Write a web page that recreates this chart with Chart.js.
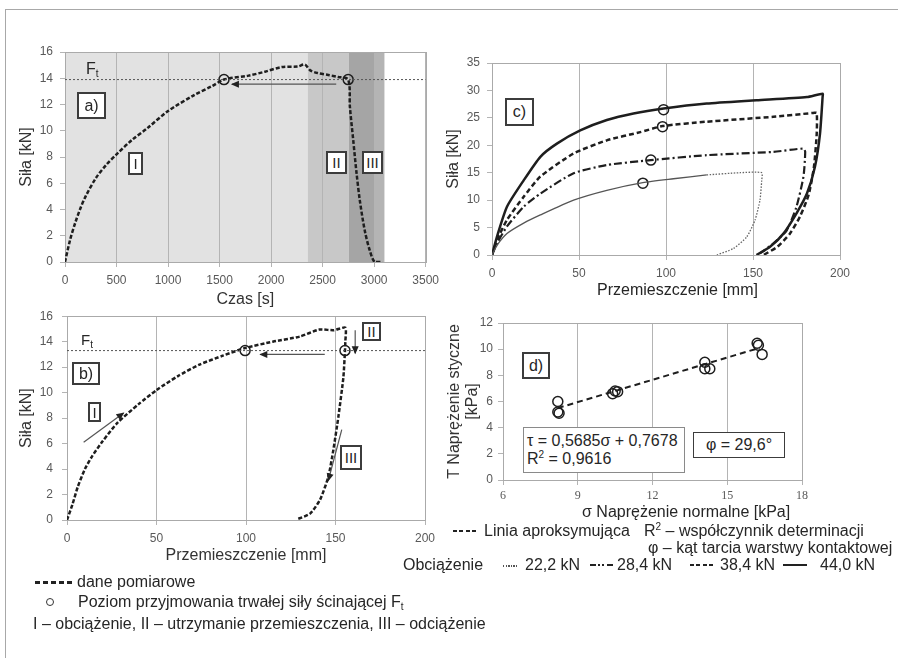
<!DOCTYPE html>
<html>
<head>
<meta charset="utf-8">
<script src="https://cdn.jsdelivr.net/npm/chart.js@4.4.1/dist/chart.umd.min.js"></script>
<style>
body { margin: 0; background: #fff; font-family: "Liberation Sans", Arial, sans-serif; color: #262626; }
#page { position: relative; width: 898px; height: 658px; overflow: hidden; }
#frame { position: absolute; left: 5px; top: 9px; right: -2px; bottom: -2px; border-top: 1px solid #a8a8a8; border-left: 1px solid #a8a8a8; }
canvas { position: absolute; }
.box { position: absolute; box-sizing: border-box; border: 2px solid #3c3c3c; background: #fff; font-size: 15px; display: flex; align-items: center; justify-content: center; }
.txt { position: absolute; white-space: nowrap; font-size: 16px; line-height: 18px; }
.txt sub { font-size: 10px; vertical-align: -3px; line-height: 0; }
.txt sup { font-size: 10px; vertical-align: 6px; line-height: 0; }
.smp { position: absolute; }
</style>
</head>
<body>
<div id="page">
<div id="frame"></div>
<canvas id="chartA" style="left:0px;top:20px" width="445" height="295"></canvas>
<canvas id="chartB" style="left:0px;top:300px" width="445" height="270"></canvas>
<canvas id="chartC" style="left:440px;top:20px" width="458" height="290"></canvas>
<canvas id="chartD" style="left:440px;top:300px" width="458" height="200"></canvas>

<!-- a) -->
<div class="txt" style="left:86px;top:60px">F<sub>t</sub></div>
<div class="box" style="left:77px;top:92px;width:29px;height:27px;font-size:16px">a)</div>
<div class="box" style="left:128px;top:152px;width:15px;height:23px">I</div>
<div class="box" style="left:326px;top:151px;width:21px;height:23px">II</div>
<div class="box" style="left:362px;top:151px;width:21px;height:23px">III</div>

<!-- b) -->
<div class="txt" style="left:81px;top:331px;font-size:15px">F<sub>t</sub></div>
<div class="box" style="left:72px;top:362px;width:28px;height:23px;font-size:16px">b)</div>
<div class="box" style="left:88px;top:402px;width:13px;height:20px">I</div>
<div class="box" style="left:362px;top:322px;width:19px;height:19px">II</div>
<div class="box" style="left:340px;top:445px;width:22px;height:25px">III</div>

<!-- c) -->
<div class="box" style="left:505px;top:98px;width:29px;height:28px;font-size:16px">c)</div>
<div class="txt" style="left:597px;top:281px">Przemieszczenie [mm]</div>

<!-- d) -->
<div class="box" style="left:522px;top:352px;width:28px;height:27px;font-size:16px">d)</div>
<div class="box" style="left:523px;top:427px;width:162px;height:46px;border:1px solid #8a8a8a;display:block;padding:4px 0 0 3px;font-size:16px;line-height:18px">τ = 0,5685σ + 0,7678<br>R<sup style="font-size:10px;vertical-align:6px;line-height:0">2</sup> = 0,9616</div>
<div class="box" style="left:693px;top:432px;width:92px;height:26px;font-size:16px;border-width:1.5px">φ = 29,6°</div>
<div class="txt" style="left:582px;top:503px">σ Naprężenie normalne [kPa]</div>

<!-- legenda -->
<div class="smp" style="left:35px;top:581px;width:37px;height:2.5px;background:repeating-linear-gradient(to right,#222 0 5px,transparent 5px 8px)"></div>
<div class="txt" style="left:77px;top:573px">dane pomiarowe</div>
<div class="smp" style="left:46px;top:598px;width:6px;height:6px;border:1.5px solid #333;border-radius:50%"></div>
<div class="txt" style="left:78px;top:593px">Poziom przyjmowania trwałej siły ścinającej F<sub>t</sub></div>
<div class="txt" style="left:33px;top:615px">I – obciążenie, II – utrzymanie przemieszczenia, III – odciążenie</div>

<div class="smp" style="left:453px;top:530px;width:24px;height:2px;background:repeating-linear-gradient(to right,#222 0 4px,transparent 4px 6.5px)"></div>
<div class="txt" style="left:484px;top:522px">Linia aproksymująca</div>
<div class="txt" style="left:644px;top:522px">R<sup>2</sup> – współczynnik determinacji</div>
<div class="txt" style="left:648px;top:539px">φ – kąt tarcia warstwy kontaktowej</div>
<div class="txt" style="left:403px;top:556px">Obciążenie</div>
<div class="smp" style="left:503px;top:565px;width:15px;height:1.5px;background:repeating-linear-gradient(to right,#555 0 1.3px,transparent 1.3px 2.6px)"></div>
<div class="txt" style="left:525px;top:556px">22,2 kN</div>
<div class="smp" style="left:590px;top:564px;width:23px;height:2px;background:repeating-linear-gradient(to right,#222 0 6px,transparent 6px 8px,#222 8px 10px,transparent 10px 12px,#222 12px 14px,transparent 14px 17px)"></div>
<div class="txt" style="left:617px;top:556px">28,4 kN</div>
<div class="smp" style="left:690px;top:564px;width:25px;height:2px;background:repeating-linear-gradient(to right,#222 0 4px,transparent 4px 6.5px)"></div>
<div class="txt" style="left:720px;top:556px">38,4 kN</div>
<div class="smp" style="left:783px;top:564px;width:24px;height:2px;background:#222"></div>
<div class="txt" style="left:820px;top:556px">44,0 kN</div>
</div>

<script>
// a) sila w funkcji czasu
var aTime  = [0, 50, 100, 150, 200, 300, 400, 500, 650, 800, 1000, 1250, 1427, 1543, 1781, 1941, 2102, 2263, 2327, 2380, 2450, 2555, 2650, 2748, 2765, 2797, 2829, 2861, 2909, 2957, 3005, 3080];
var aForce = [0, 1.7, 3.0, 4.1, 5.0, 6.4, 7.4, 8.2, 9.3, 10.2, 11.5, 12.7, 13.4, 13.9, 14.2, 14.5, 14.85, 14.9, 15.05, 14.6, 14.4, 14.25, 14.1, 13.9, 11.8, 9.3, 6.8, 4.7, 2.4, 0.9, 0, 0];
var aFt = 13.9;
var aCircleX = [1543, 2748];
var aArrowX = [2632, 1620];
var aArrowY = [13.55, 13.55];
var aBandFrom = [0, 2356, 2755, 3000];
var aBandTo   = [2356, 2755, 3000, 3100];

// b) sila w funkcji przemieszczenia
var bDisp  = [0, 3, 6, 10, 14, 20, 28, 40, 50, 62, 74, 87, 99.5, 115, 130, 141, 149, 155.5, 155.5, 155.3, 154.4, 151.6, 148.8, 146, 141.4, 135.8, 128.4];
var bForce = [0, 1.2, 2.6, 4.0, 5.0, 6.2, 7.6, 9.1, 10.2, 11.3, 12.2, 12.9, 13.5, 14.0, 14.4, 14.95, 14.9, 15.1, 14.0, 13.3, 11.2, 8.1, 5.5, 3.4, 1.6, 0.5, 0.05];
var bFt = 13.3;
var bCircleX = [99.5, 155.3];
var bArrowLeftX = [144, 108],    bArrowLeftY = [13.0, 13.0];
var bArrowIX    = [9.3, 31.6],   bArrowIY    = [6.1, 8.4];
var bArrowIIX   = [161, 161],    bArrowIIY   = [14.9, 13.1];
var bArrowIIIX  = [153.5, 146],  bArrowIIIY  = [7.1, 3.1];

// c) rozne obciazenia
var c44x = [0, 3, 8.6, 18.2, 27.8, 37.3, 50.7, 66, 81.3, 98.6, 123.4, 152, 181, 190, 190, 188.5, 185.6, 181, 175, 167.5, 159.8, 152];
var c44y = [0, 3.5, 8.8, 13.6, 17.9, 20.3, 22.7, 24.6, 25.8, 26.7, 27.6, 28.2, 28.8, 29.4, 28.8, 22.1, 16.1, 11.2, 7.6, 3.9, 1.5, 0];
var c38x = [0, 3, 8.6, 18.2, 27.8, 46.9, 66, 85.2, 98, 123.4, 161.7, 184.7, 186.6, 186.6, 185, 182, 177, 171, 164, 156];
var c38y = [0, 2.8, 6.4, 10.6, 14.3, 18.5, 20.9, 22.4, 23.5, 24.3, 25.2, 25.9, 25.9, 22, 16, 11, 7, 3.8, 1.5, 0];
var c28x = [0, 3, 8.6, 18.2, 27.8, 46.9, 66, 91.3, 123.4, 161.7, 179, 180, 179, 175, 169.4, 161.7, 154];
var c28y = [0, 2.2, 5.2, 8.8, 11.2, 14.9, 16.4, 17.3, 18.2, 18.8, 19.4, 18.8, 14.3, 8.8, 4.5, 2.1, 0.3];
var c22x = [0, 3, 8.6, 18.2, 27.8, 46.9, 66, 86.7, 104.3, 123.4, 142.6, 155, 155, 154, 151.2, 146.4, 138.8, 129.2];
var c22y = [0, 1.8, 3.9, 5.8, 7.3, 10.0, 11.8, 13.2, 13.9, 14.6, 15.0, 15.0, 13.6, 10, 6.4, 3.3, 1.2, 0];
var cCircleX = [98.6, 98, 91.3, 86.7];
var cCircleY = [26.5, 23.4, 17.3, 13.1];

// d) naprezenia
var dSigma = [8.2, 8.2, 8.25, 10.4, 10.5, 10.6, 14.1, 14.1, 14.3, 16.2, 16.25, 16.4];
var dTau   = [6.0, 5.2, 5.1, 6.6, 6.8, 6.75, 9.0, 8.5, 8.5, 10.45, 10.3, 9.6];
var dTrendX = [8.2, 16.3];
var dTrendY = [5.5, 10.1];

function pts(xs, ys) {
    return xs.map(function (x, i) { return { x: x, y: ys[i] }; });
}

function line(xs, ys, style) {
    return Object.assign({
        showLine: true,
        data: pts(xs, ys),
        pointRadius: 0,
        borderColor: '#1e1e1e',
        borderWidth: 2.5,
        tension: 0.2,
        fill: false
    }, style);
}

function circles(xs, ys) {
    return {
        showLine: false,
        data: pts(xs, ys),
        pointRadius: 5,
        pointBorderWidth: 1.5,
        pointBorderColor: '#1e1e1e',
        pointBackgroundColor: 'rgba(0,0,0,0)'
    };
}

function arrow(xs, ys) {
    return line(xs, ys, { borderColor: '#555', borderWidth: 1.2, tension: 0, arrowHead: true });
}

var measured = { borderDash: [4, 2], tension: 0.3 };
var ftStyle = { borderColor: '#555', borderWidth: 1, borderDash: [2, 2], tension: 0 };

// pasma tla, ramka wykresu i groty strzalek
var panelDecor = {
    id: 'panelDecor',
    beforeDraw: function (chart, args, o) {
        var ctx = chart.ctx, a = chart.chartArea, sx = chart.scales.x;
        (o.bands || []).forEach(function (b) {
            var x0 = sx.getPixelForValue(b.from), x1 = sx.getPixelForValue(b.to);
            ctx.fillStyle = b.color;
            ctx.fillRect(x0, a.top, x1 - x0, a.bottom - a.top);
        });
    },
    beforeDatasetsDraw: function (chart) {
        var ctx = chart.ctx, a = chart.chartArea;
        ctx.save();
        ctx.strokeStyle = '#aaaaaa';
        ctx.lineWidth = 1;
        ctx.strokeRect(Math.round(a.left) + 0.5, Math.round(a.top) + 0.5, Math.round(a.right - a.left), Math.round(a.bottom - a.top));
        ctx.restore();
    },
    afterDatasetsDraw: function (chart) {
        var ctx = chart.ctx;
        chart.data.datasets.forEach(function (ds, i) {
            if (!ds.arrowHead) return;
            var el = chart.getDatasetMeta(i).data;
            var p1 = el[el.length - 2], p2 = el[el.length - 1];
            var ang = Math.atan2(p2.y - p1.y, p2.x - p1.x);
            ctx.save();
            ctx.translate(p2.x, p2.y);
            ctx.rotate(ang);
            ctx.fillStyle = '#222';
            ctx.beginPath();
            ctx.moveTo(1, 0);
            ctx.lineTo(-7, -3.5);
            ctx.lineTo(-7, 3.5);
            ctx.closePath();
            ctx.fill();
            ctx.restore();
        });
    }
};

// p.box = polozenie plotna na stronie, p.area = obszar wykresu na stronie
function panelOptions(p) {
    var left = p.box[0], top = p.box[1], w = p.box[2], h = p.box[3];
    var al = p.area[0] - left, at = p.area[1] - top, ar = p.area[2] - left, ab = p.area[3] - top;
    var lh = 19.2;
    var yLh = p.yTitleLH || 1.2;
    return {
        responsive: false,
        animation: false,
        events: [],
        layout: { padding: { left: 0, top: at, right: w - ar, bottom: 0 } },
        plugins: {
            legend: { display: false },
            tooltip: { enabled: false },
            panelDecor: { bands: p.bands || [] }
        },
        scales: {
            x: {
                type: 'linear', min: p.x[0], max: p.x[1],
                afterFit: function (s) { s.height = h - ab; },
                ticks: {
                    stepSize: p.x[2], autoSkip: false, maxRotation: 0, padding: p.xPad,
                    color: '#595959', font: p.xFont || { size: 12 },
                    callback: function (v) { return String(v); }
                },
                grid: { color: '#b4b4b4', tickLength: 5, tickColor: '#b4b4b4' },
                border: { color: '#a6a6a6' },
                title: p.xTitle ? {
                    display: true, text: p.xTitle, color: '#333', font: { size: 16 },
                    padding: { top: 0, bottom: h - (p.xTitleY - top) - lh / 2 }
                } : { display: false }
            },
            y: {
                type: 'linear', min: p.y[0], max: p.y[1],
                afterFit: function (s) { s.width = al; },
                ticks: {
                    stepSize: p.y[2], autoSkip: false, padding: p.yPad,
                    color: '#595959', font: { size: 12 },
                    callback: function (v) { return String(v); }
                },
                grid: { drawOnChartArea: false, tickLength: 5, color: '#b4b4b4' },
                border: { color: '#a6a6a6' },
                title: {
                    display: true, text: p.yTitle, color: '#333',
                    font: { size: 16, lineHeight: yLh },
                    padding: { top: p.yTitleX - left - 16 * yLh / 2, bottom: 0 }
                }
            }
        }
    };
}

function bandList() {
    var colors = ['#e2e2e2', '#c8c8c8', '#a5a5a5', '#b4b4b4'];
    return aBandFrom.map(function (f, i) { return { from: f, to: aBandTo[i], color: colors[i] }; });
}

new Chart(document.getElementById('chartA'), {
    type: 'scatter',
    plugins: [panelDecor],
    data: {
        datasets: [
            line([0, 3500], [aFt, aFt], ftStyle),
            arrow(aArrowX, aArrowY),
            line(aTime, aForce, measured),
            circles(aCircleX, [aFt, aFt])
        ]
    },
    options: panelOptions({
        box: [0, 20, 445, 295], area: [65, 52, 428, 262],
        x: [0, 3500, 500], y: [0, 16, 2], xPad: 6, yPad: 7,
        xTitle: 'Czas [s]', xTitleY: 300, yTitle: 'Siła [kN]', yTitleX: 27,
        bands: bandList()
    })
});

new Chart(document.getElementById('chartB'), {
    type: 'scatter',
    plugins: [panelDecor],
    data: {
        datasets: [
            line([0, 200], [bFt, bFt], ftStyle),
            arrow(bArrowLeftX, bArrowLeftY),
            arrow(bArrowIX, bArrowIY),
            arrow(bArrowIIX, bArrowIIY),
            arrow(bArrowIIIX, bArrowIIIY),
            line(bDisp, bForce, { borderDash: [4, 2], tension: 0.2 }),
            circles(bCircleX, [bFt, bFt])
        ]
    },
    options: panelOptions({
        box: [0, 300, 445, 270], area: [67, 316, 425, 520],
        x: [0, 200, 50], y: [0, 16, 2], xPad: 6, yPad: 9,
        xTitle: 'Przemieszczenie [mm]', xTitleY: 556, yTitle: 'Siła [kN]', yTitleX: 27
    })
});

new Chart(document.getElementById('chartC'), {
    type: 'scatter',
    plugins: [panelDecor],
    data: {
        datasets: [
            line(c22x.slice(0, 10), c22y.slice(0, 10), { borderColor: '#555', borderWidth: 1.3 }),
            line(c22x.slice(9), c22y.slice(9), { borderColor: '#666', borderWidth: 1.3, borderDash: [1.5, 1.5] }),
            line(c28x, c28y, { borderWidth: 2.2, borderDash: [8, 3, 2, 3] }),
            line(c38x, c38y, { borderWidth: 2.5, borderDash: [5, 3] }),
            line(c44x, c44y, { borderWidth: 2.5 }),
            circles(cCircleX, cCircleY)
        ]
    },
    options: panelOptions({
        box: [440, 20, 458, 290], area: [492, 63, 840, 255],
        x: [0, 200, 50], y: [0, 35, 5], xPad: 6, yPad: 7,
        yTitle: 'Siła [kN]', yTitleX: 454
    })
});

new Chart(document.getElementById('chartD'), {
    type: 'scatter',
    plugins: [panelDecor],
    data: {
        datasets: [
            line(dTrendX, dTrendY, { borderWidth: 2, borderDash: [6, 4], tension: 0 }),
            circles(dSigma, dTau)
        ]
    },
    options: panelOptions({
        box: [440, 300, 458, 200], area: [503, 323, 802, 480],
        x: [6, 18, 3], y: [0, 12, 2], xPad: 4, yPad: 5,
        xFont: { size: 12, family: '"Liberation Serif", "DejaVu Serif", serif' },
        yTitle: ['T Naprężenie styczne', '[kPa]'], yTitleX: 455, yTitleLH: 1.125
    })
});
</script>
</body>
</html>
